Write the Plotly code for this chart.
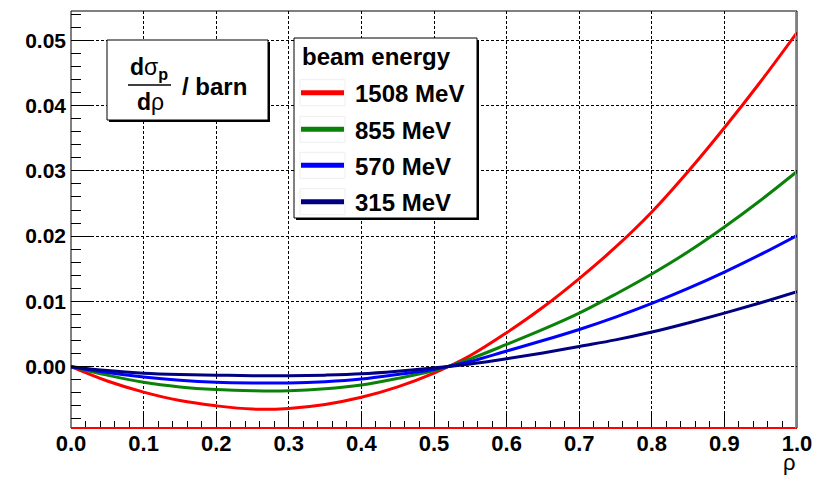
import plotly.graph_objects as go

rho = [0.00, 0.05, 0.10, 0.15, 0.20, 0.25, 0.30, 0.35, 0.40, 0.45, 0.50,
       0.55, 0.60, 0.65, 0.70, 0.75, 0.80, 0.85, 0.90, 0.95, 1.00]

e1508 = [0.0, -0.0022, -0.0039, -0.0052, -0.0060, -0.0065, -0.0064, -0.0058, -0.0047, -0.0031, -0.0010,
         0.0017, 0.0052, 0.0091, 0.0135, 0.0183, 0.0237, 0.0299, 0.0366, 0.0437, 0.0512]
e855 = [0.0, -0.0013, -0.0024, -0.0031, -0.0035, -0.0037, -0.0037, -0.0034, -0.0028, -0.0018, -0.0006,
        0.0012, 0.0034, 0.0057, 0.0082, 0.0111, 0.0142, 0.0176, 0.0214, 0.0255, 0.0299]
e570 = [0.0, -0.0009, -0.0016, -0.0021, -0.0024, -0.0025, -0.0025, -0.0023, -0.0019, -0.0012, -0.0004,
        0.0008, 0.0024, 0.0040, 0.0057, 0.0076, 0.0097, 0.0120, 0.0145, 0.0172, 0.0201]
e315 = [0.0, -0.0006, -0.0010, -0.0012, -0.0013, -0.0014, -0.0014, -0.0013, -0.0011, -0.0007, -0.0002,
        0.0004, 0.0012, 0.0021, 0.0031, 0.0041, 0.0053, 0.0067, 0.0082, 0.0098, 0.0115]

series_names = ["1508 MeV", "855 MeV", "570 MeV", "315 MeV"]
series_vals = [e1508, e855, e570, e315]
series_colors = ["#ff0000", "#0a820a", "#0000ff", "#000080"]

legend_title = "beam energy"
x_title = "ρ"

W, H = 825, 477
L, R, T, B = 71, 28, 11, 49
PW, PH = W - L - R, H - T - B

def px(x):
    return (x - L) / PW

def py(y):
    return (H - B - y) / PH

FONT = "Liberation Sans, Arial, sans-serif"

fig = go.Figure()
for name, vals, col in zip(series_names, series_vals, series_colors):
    fig.add_trace(go.Scatter(x=rho, y=vals, mode="lines", name=name,
                             line=dict(color=col, width=3, shape="spline"),
                             showlegend=False))

shapes = []
# frame
shapes.append(dict(type="rect", xref="paper", yref="paper", x0=0, x1=1, y0=0, y1=1,
                   line=dict(color="black", width=1), layer="above"))
shapes.append(dict(type="line", xref="paper", yref="paper", x0=0, x1=1, y0=0, y1=0,
                   line=dict(color="#ff0000", width=2), layer="above"))
shapes.append(dict(type="line", xref="paper", yref="paper", x0=px(795.5), x1=px(795.5), y0=0, y1=1,
                   line=dict(color="#ff6060", width=1), layer="above"))

def box(x0, y0, x1, y1):
    shapes.append(dict(type="rect", xref="paper", yref="paper",
                       x0=px(x0 + 2), x1=px(x1 + 2), y0=py(y1 + 2), y1=py(y0 + 2),
                       fillcolor="black", line=dict(width=0), layer="above"))
    shapes.append(dict(type="rect", xref="paper", yref="paper",
                       x0=px(x0), x1=px(x1), y0=py(y1), y1=py(y0),
                       fillcolor="white", line=dict(color="black", width=1), layer="above"))

box(107, 40, 268, 120)
box(294, 38, 477, 218)

# fraction bar
shapes.append(dict(type="line", xref="paper", yref="paper", x0=px(128), x1=px(171),
                   y0=py(85), y1=py(85), line=dict(color="black", width=1.5), layer="above"))

annotations = []

def txt(t, x, y, size, xanchor="left"):
    annotations.append(dict(text=t, x=px(x), y=py(y), xref="paper", yref="paper",
                            xanchor=xanchor, yanchor="middle", showarrow=False,
                            font=dict(family=FONT, size=size, color="black")))

txt("<b>d</b>σ<sub><b>p</b></sub>", 149, 68, 23, xanchor="center")
txt("<b>d</b>ρ", 150, 102, 23, xanchor="center")
txt("<b>/ barn</b>", 180, 86, 24)

txt("<b>" + legend_title + "</b>", 300, 56, 24)
ly = [92.7, 129.3, 165.3, 201.7]
for name, col, y in zip(series_names, series_colors, ly):
    shapes.append(dict(type="rect", xref="paper", yref="paper", x0=px(300), x1=px(345),
                       y0=py(y + 13), y1=py(y - 13), fillcolor="white",
                       line=dict(color="#eeeeee", width=1), layer="above"))
    shapes.append(dict(type="line", xref="paper", yref="paper", x0=px(301), x1=px(344),
                       y0=py(y), y1=py(y), line=dict(color=col, width=5), layer="above"))
    txt("<b>" + name + "</b>", 353, y + 1, 24)

txt(x_title, 798, 463, 22, xanchor="right")

fig.update_layout(
    width=W, height=H,
    margin=dict(l=L, r=R, t=T, b=B, pad=0),
    plot_bgcolor="white", paper_bgcolor="white",
    showlegend=False,
    shapes=shapes, annotations=annotations,
    xaxis=dict(range=[0, 1], tick0=0, dtick=0.1, tickformat=".1f",
               ticks="inside", ticklen=16, tickwidth=1, tickcolor="black",
               showgrid=True, gridcolor="black", gridwidth=1, griddash="3px,2px",
               zeroline=False, showline=False,
               tickfont=dict(family=FONT, size=22, color="black", weight="bold"),
               minor=dict(dtick=0.02, ticks="inside", ticklen=7, tickcolor="black", showgrid=False)),
    yaxis=dict(range=[-0.0094, 0.0545], tick0=0, dtick=0.01, tickformat=".2f",
               ticks="inside", ticklen=20, tickwidth=1, tickcolor="black",
               showgrid=True, gridcolor="black", gridwidth=1, griddash="3px,2px",
               zeroline=False, showline=False, ticklabelstandoff=4,
               tickfont=dict(family=FONT, size=21, color="black", weight="bold"),
               minor=dict(dtick=0.002, ticks="inside", ticklen=10, tickcolor="black", showgrid=False)),
)

fig.write_html("out.html")
